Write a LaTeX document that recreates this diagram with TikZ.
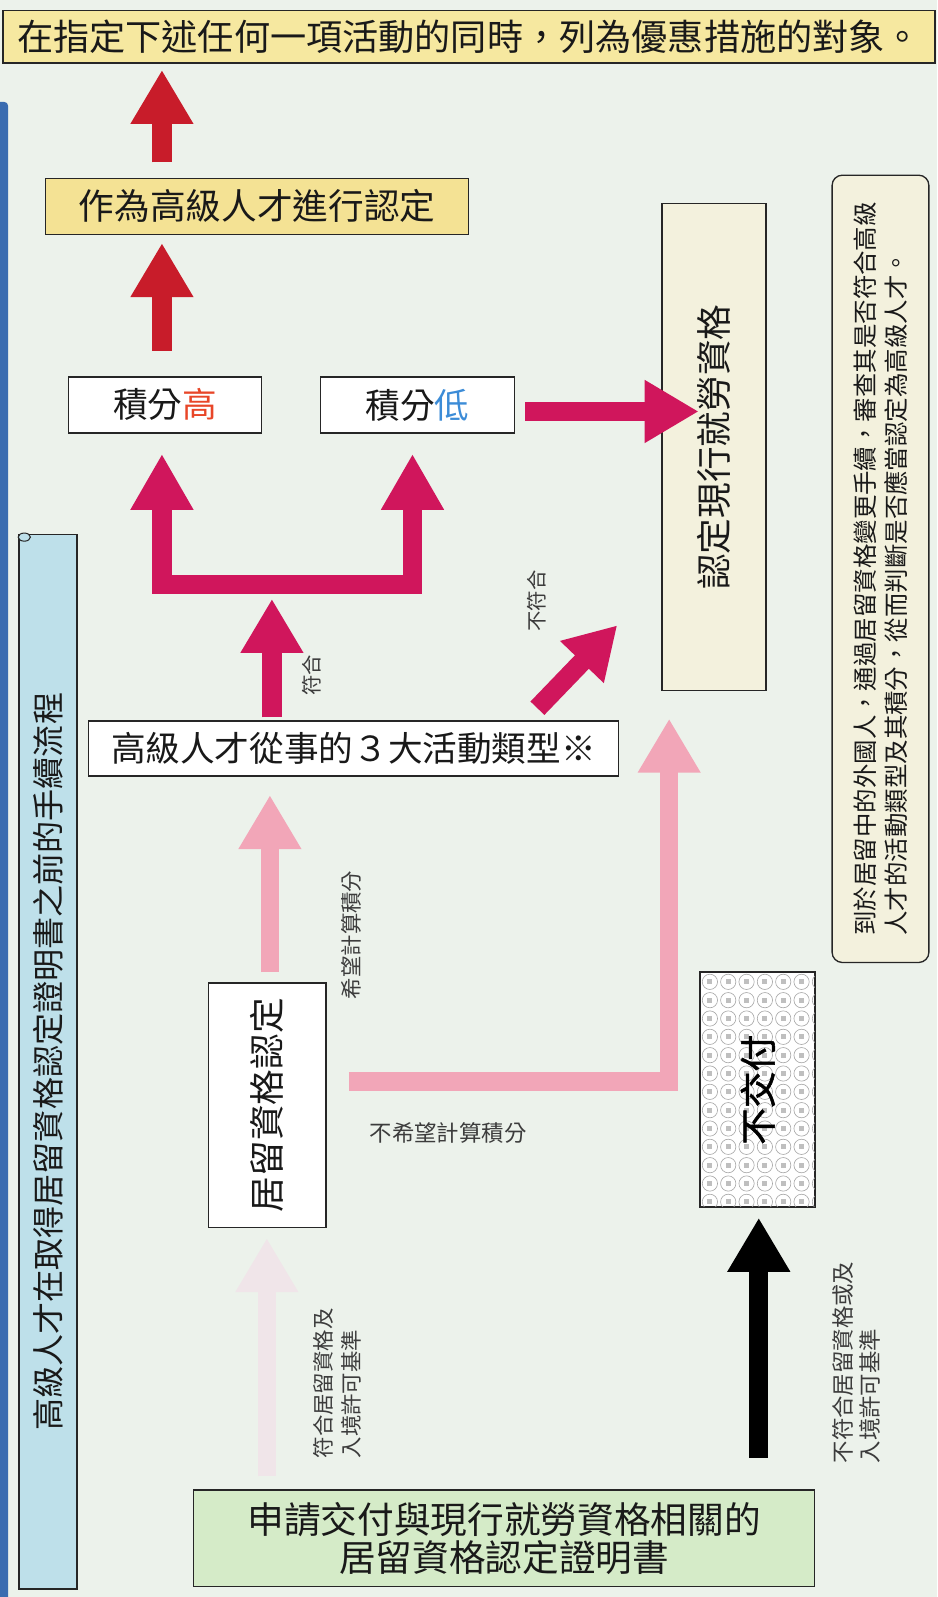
\documentclass[tikz,border=0pt]{standalone}
\usepackage{fontspec}
\newfontfamily\cjk{Noto Sans CJK TC}
\newfontfamily\cjkb[FakeBold=1.5]{Noto Sans CJK TC}
\usetikzlibrary{arrows.meta,calc}
\definecolor{bgc}{RGB}{236,242,235}
\definecolor{bannerc}{RGB}{246,232,160}
\definecolor{yelc}{RGB}{244,226,148}
\definecolor{redc}{RGB}{200,28,42}
\definecolor{magc}{RGB}{208,22,92}
\definecolor{pinkc}{RGB}{242,166,184}
\definecolor{faintc}{RGB}{240,229,233}
\definecolor{creamc}{RGB}{243,241,221}
\definecolor{greenc}{RGB}{213,235,200}
\definecolor{titlec}{RGB}{190,224,234}
\definecolor{stripc}{RGB}{58,108,176}
\definecolor{hic}{RGB}{232,70,40}
\definecolor{loc}{RGB}{60,140,215}
\definecolor{lblc}{RGB}{60,60,60}
\begin{document}
\begin{tikzpicture}[x=1pt,y=-1pt,
 box/.style={draw=black!85,line width=1.3pt,inner sep=0pt,text=black!90},
 blockarr/.style={line width=19pt,line join=miter,-{Triangle[length=53pt,width=58pt]}},
 lbl/.style={text=lblc,inner sep=0pt,font=\cjk\fontsize{21}{27}\selectfont},
]
\fill[bgc] (0,0) rectangle (920,1568);
\useasboundingbox (0,0) rectangle (920,1568);
% left blue strip
\fill[stripc,rounded corners=4pt] (-6,100) rectangle (8,1580);

% coordinates for arrow columns and rows
\coordinate (xa) at (159,0);
\coordinate (xb) at (405,0);
\coordinate (xc) at (267,0);
\coordinate (xp) at (265,0);
\coordinate (xq) at (657,0);
\coordinate (xf) at (262,0);
\coordinate (xk) at (745,0);
\coordinate (bar) at (0,574);
\coordinate (ya) at (0,404);
\coordinate (yl) at (0,1062);
\coordinate (dg) at (606,614);

% nodes
\node[box,fill=bannerc,minimum width=915pt,minimum height=52pt,font=\cjk\fontsize{35.5}{40}\selectfont] (banner) at (460.5,36) {在指定下述任何一項活動的同時，列為優惠措施的對象。};
\node[box,fill=yelc,minimum width=415pt,minimum height=55pt,font=\cjk\fontsize{35}{40}\selectfont] (boxA) at (252.5,202.5) {作為高級人才進行認定};
\node[box,fill=white,minimum width=190pt,minimum height=55pt,font=\cjk\fontsize{34}{40}\selectfont] (hi) at (162,397.5) {積分\textcolor{hic}{高}};
\node[box,fill=white,minimum width=190pt,minimum height=55pt,font=\cjk\fontsize{34}{40}\selectfont] (lo) at (410,397.5) {積分\textcolor{loc}{低}};
\node[box,fill=white,minimum width=520pt,minimum height=54pt,font=\cjk\fontsize{34}{40}\selectfont] (boxB) at (347,735) {高級人才從事的３大活動類型※};
\node[box,fill=creamc,rotate=90,minimum width=478pt,minimum height=102pt,font=\cjk\fontsize{35}{40}\selectfont] (boxC) at (701,439) {認定現行就勞資格};
\node[box,fill=creamc,rounded corners=10pt,rotate=90,minimum width=773pt,minimum height=95pt,align=left,font=\cjk\fontsize{24}{30}\selectfont] (boxD) at (864.5,558.5) {到於居留中的外國人，通過居留資格變更手續，審查其是否符合高級\\人才的活動類型及其積分，從而判斷是否應當認定為高級人才。};
\node[box,fill=white,rotate=90,minimum width=240pt,minimum height=115pt,font=\cjk\fontsize{35}{40}\selectfont] (boxE) at (262.5,1085) {居留資格認定};
\node[box,fill=white,rotate=90,minimum width=230pt,minimum height=112pt] (nofu) at (744,1070) {};
\node[box,fill=greenc,minimum width=610pt,minimum height=95pt,align=center,font=\cjk\fontsize{36}{37}\selectfont] (bottom) at (495,1510.5) {申請交付與現行就勞資格相關的\\居留資格認定證明書};
% title scroll
\node[box,fill=titlec,rotate=90,minimum width=1035pt,minimum height=57pt,font=\cjk\fontsize{31.5}{36}\selectfont] (title) at (47,1042.5) {高級人才在取得居留資格認定證明書之前的手續流程};
\draw[black!85,line width=1pt,fill=titlec] ($(title.north east)+(6,3)$) ellipse (6 and 4);

% hatch inside 不交付
\begin{scope}
\clip (nofu.north west) rectangle (nofu.south east);
\foreach \i in {0,...,6}{\foreach \j in {0,...,13}{
  \draw[gray!70,line width=0.6pt] ({697+\i*18},{964+\j*18}) circle (7.5);
  \fill[gray!50] ({694.5+\i*18},{961.5+\j*18}) rectangle ++(5,5);
}}
\end{scope}
\draw[black!85,line width=1.3pt] (nofu.north west) rectangle (nofu.south east);
\node[rotate=90,inner sep=0pt,font=\cjkb\fontsize{36}{40}\selectfont] (nofut) at (nofu.center) {不交付};

% labels
\node[lbl,rotate=90] (l1) at (345,918) {希望計算積分};
\node[lbl,font=\cjk\fontsize{22}{27}\selectfont] (l2) at (440,1112) {不希望計算積分};
\node[lbl,font=\cjk\fontsize{20}{27}\selectfont,rotate=90] (l3) at (306,663) {符合};
\node[lbl,font=\cjk\fontsize{20}{27}\selectfont,rotate=90] (l4) at (527,590) {不符合};
\node[lbl,rotate=90,anchor=west,align=left] (l5) at (331,1432) {符合居留資格及\\入境許可基準};
\node[lbl,font=\cjk\fontsize{22}{27}\selectfont,rotate=90,anchor=west,align=left] (l6) at (841,1437) {不符合居留資格或及\\入境許可基準};

% red arrows
\draw[blockarr,redc,shorten <=15pt,shorten >=6pt] (boxA.north -| xa) -- (banner.south -| xa);
\draw[blockarr,redc,shorten <=25pt,shorten >=8pt] (hi.north -| xa) -- (boxA.south -| xa);

% magenta arrows
\draw[blockarr,magc,{Triangle[length=55pt,width=58pt]}-{Triangle[length=55pt,width=58pt]},shorten <=20pt,shorten >=20pt]
  (hi.south -| xa) -- (xa |- bar) -- (xb |- bar) -- (lo.south -| xb);
\draw[blockarr,magc,shorten <=3pt,shorten >=14pt] (boxB.north -| xc) -- (xc |- bar);
\draw[blockarr,magc,shorten <=10pt,shorten >=15pt] (lo.east |- ya) -- (boxC.west |- ya);
\draw[blockarr,magc,-{Triangle[length=50pt,width=56pt]}] ($(boxB.north east)+(-80,-12)$) -- (dg);

% pink arrows
\draw[blockarr,pinkc,line width=18pt,shorten <=10pt,shorten >=18pt] (boxE.east -| xp) -- (boxB.south -| xp);
\draw[blockarr,pinkc,line width=18pt,shorten <=22pt,shorten >=27pt] (boxE.south |- yl) -- (xq |- yl) -- (boxC.west -| xq);
\draw[blockarr,faintc,line width=18pt,shorten <=13pt,shorten >=10pt] (bottom.north -| xf) -- (boxE.west -| xf);

% black arrow
\draw[blockarr,black,shorten <=31pt,shorten >=10pt] (bottom.north -| xk) -- (nofu.west -| xk);
\end{tikzpicture}
\end{document}
